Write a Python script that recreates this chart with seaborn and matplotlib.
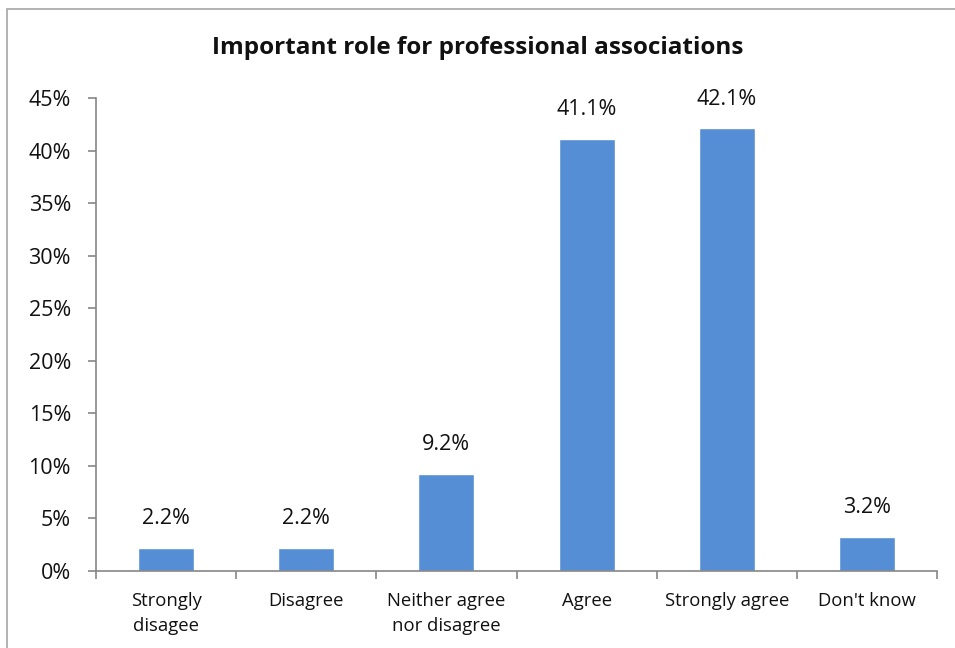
import matplotlib
matplotlib.use("Agg")
import matplotlib.pyplot as plt
from matplotlib.patches import Rectangle
from matplotlib.ticker import FuncFormatter, MultipleLocator
import seaborn as sns
import pandas as pd

categories = ["Strongly\ndisagee", "Disagree", "Neither agree\nnor disagree",
              "Agree", "Strongly agree", "Don't know"]
values = [2.2, 2.2, 9.2, 41.1, 42.1, 3.2]
title = "Important role for professional associations"

sns.set_theme(style="white")
plt.rcParams["font.family"] = ["Open Sans", "DejaVu Sans"]

df = pd.DataFrame({"category": categories, "value": values})

fig = plt.figure(figsize=(9.55, 6.48), dpi=100)
ax = fig.add_axes([96 / 955, 1 - 571 / 648, (937 - 96) / 955, (571 - 98) / 648])

sns.barplot(data=df, x="category", y="value", color="#558ED5", width=0.4,
            saturation=1, ax=ax)

ax.set_ylim(0, 45)
ax.set_xlim(-0.5, len(categories) - 0.5)
ax.yaxis.set_major_locator(MultipleLocator(5))
ax.yaxis.set_major_formatter(FuncFormatter(lambda v, _: f"{v:.0f}%"))

axis_col = "#868686"
for side in ["top", "right"]:
    ax.spines[side].set_visible(False)
for side in ["left", "bottom"]:
    ax.spines[side].set_color(axis_col)
    ax.spines[side].set_linewidth(1.2)

# x ticks sit between the categories, labels sit at the centres
ax.set_xticks([i - 0.5 for i in range(len(categories) + 1)])
ax.set_xticklabels([])
ax.set_xticks(range(len(categories)), minor=True)
ax.set_xticklabels(categories, minor=True, fontsize=13.3, color="#111111",
                   linespacing=1.5)
ax.tick_params(axis="x", which="major", direction="out", length=6, width=1.2,
               color=axis_col, bottom=True)
ax.tick_params(axis="x", which="minor", length=0, pad=15)
ax.tick_params(axis="y", direction="out", length=6, width=1.2, color=axis_col,
               left=True, labelsize=15.5, labelcolor="#111111", pad=12)

ax.set_xlabel("")
ax.set_ylabel("")

for i, v in enumerate(values):
    ax.text(i, v + 1.8, f"{v:.1f}%", ha="center", va="bottom", fontsize=15.5,
            color="#111111")

fig.text(0.5, 1 - 48 / 648, title, ha="center", va="center", fontsize=17.5,
         fontweight="bold", color="#111111")

# chart frame
fig.patches.append(Rectangle((7 / 955, -0.1), 1.2, 1 - 9 / 648 + 0.1,
                             transform=fig.transFigure, fill=False,
                             edgecolor="#A6A6A6", linewidth=1.2, zorder=0))

fig.savefig("out.png", dpi=100)
